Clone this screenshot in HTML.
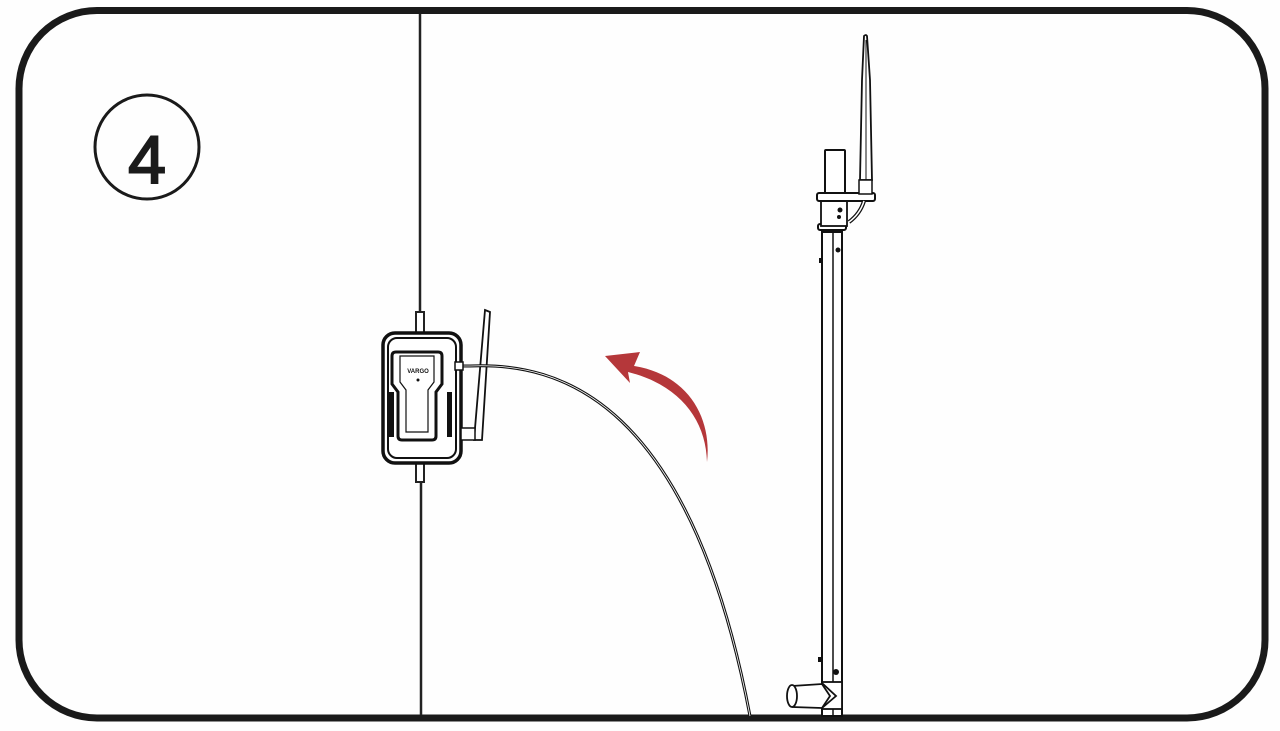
<!DOCTYPE html>
<html><head><meta charset="utf-8"><style>
html,body{margin:0;padding:0;background:#fefefe;}
svg{display:block}
</style></head><body>
<svg width="1280" height="731" viewBox="0 0 1280 731" xmlns="http://www.w3.org/2000/svg">
<rect x="0" y="0" width="1280" height="731" fill="#fefefe"/>
<rect x="19" y="10.5" width="1246" height="707.5" rx="78" ry="78" fill="none" stroke="#1a1a1a" stroke-width="7"/>
<circle cx="147" cy="147" r="52" fill="none" stroke="#1a1a1a" stroke-width="3"/>
<text x="147" y="183" text-anchor="middle" font-family="Liberation Sans, sans-serif" font-size="68" fill="#1a1a1a" stroke="#1a1a1a" stroke-width="2">4</text>

<!-- vertical cable -->
<line x1="420" y1="14" x2="420" y2="312" stroke="#222" stroke-width="2.5"/>
<line x1="421" y1="480" x2="421" y2="715" stroke="#222" stroke-width="2.5"/>
<rect x="416" y="312" width="8" height="22" fill="#fff" stroke="#222" stroke-width="2"/>
<rect x="416" y="460" width="8" height="22" fill="#fff" stroke="#222" stroke-width="2"/>

<!-- device -->
<rect x="383" y="333" width="78" height="130" rx="12" fill="#fff" stroke="#111" stroke-width="3.5"/>
<rect x="388" y="338" width="68" height="120" rx="9" fill="none" stroke="#111" stroke-width="2"/>
<path d="M396 352 h42 q4 0 4 4 v28 l-6 8 v44 q0 4 -4 4 h-30 q-4 0 -4 -4 v-44 l-6 -8 v-28 q0 -4 4 -4z" fill="none" stroke="#111" stroke-width="3"/>
<path d="M400 356 h34 v26 l-6 8 v42 h-22 v-42 l-6 -8z" fill="none" stroke="#111" stroke-width="1.2"/>
<rect x="389" y="392" width="5" height="45" fill="#111"/>
<rect x="447" y="392" width="5" height="45" fill="#111"/>
<text x="418" y="373" text-anchor="middle" font-family="Liberation Sans, sans-serif" font-size="6" font-weight="bold" fill="#111">VARGO</text>
<circle cx="418" cy="380" r="1.5" fill="#111"/>
<!-- side antenna -->
<path d="M485 310 L490 312 L482 440 L474 440 Z" fill="#fff" stroke="#111" stroke-width="1.8"/>
<rect x="461" y="428" width="14" height="12" fill="#fff" stroke="#111" stroke-width="1.5"/>
<!-- coax -->
<path d="M458 366 L470 366 C560 362 690 400 750 716" fill="none" stroke="#111" stroke-width="3"/>
<path d="M458 366 L470 366 C560 362 690 400 750 716" fill="none" stroke="#fff" stroke-width="0.8"/>
<rect x="455" y="362" width="8" height="8" fill="#fff" stroke="#111" stroke-width="1.5"/>

<!-- red arrow -->
<path d="M707 462 C706 420 680 385 628 372 L630 383 L605 356 L640 352 L634 366 C690 375 712 420 707 462 Z" fill="#b5373a"/>

<!-- mast -->
<rect x="822" y="232" width="20" height="484" fill="#fff" stroke="#111" stroke-width="2"/>
<line x1="833" y1="232" x2="833" y2="716" stroke="#111" stroke-width="1.5"/>
<rect x="818" y="224" width="28" height="6" rx="2" fill="#fff" stroke="#111" stroke-width="2"/>
<rect x="821" y="200" width="26" height="26" fill="#fff" stroke="#111" stroke-width="1.8"/>
<circle cx="840" cy="210" r="2.5" fill="#111"/>
<circle cx="839" cy="217" r="2" fill="#111"/>
<rect x="817" y="193" width="58" height="8" rx="2" fill="#fff" stroke="#111" stroke-width="2"/>
<rect x="825" y="150" width="20" height="43" rx="1" fill="#fff" stroke="#111" stroke-width="2"/>
<path d="M864 36 Q866 34 867 36 L870 80 L872 180 L860 180 L862 80 Z" fill="#fff" stroke="#111" stroke-width="1.8"/>
<line x1="866" y1="40" x2="866" y2="180" stroke="#111" stroke-width="1"/>
<rect x="859" y="180" width="13" height="14" fill="#fff" stroke="#111" stroke-width="1.5"/>
<path d="M864 201 Q860 214 849 222" fill="none" stroke="#111" stroke-width="4"/>
<path d="M864 201 Q860 214 849 222" fill="none" stroke="#fff" stroke-width="1.5"/>
<circle cx="838" cy="250" r="2.5" fill="#111"/>
<rect x="819" y="258" width="3" height="5" fill="#111"/>
<rect x="818" y="657" width="3" height="5" fill="#111"/>
<circle cx="836" cy="672" r="3" fill="#111"/>
<!-- bottom fitting -->
<rect x="822" y="682" width="20" height="27" fill="#fff" stroke="#111" stroke-width="1.8"/>
<path d="M822 683 L836 696 L822 708" fill="none" stroke="#111" stroke-width="1.8"/>
<path d="M792 686 L822 684 L830 696 L822 708 L792 707" fill="#fff" stroke="#111" stroke-width="1.8"/>
<ellipse cx="792" cy="696" rx="5" ry="11" fill="#fff" stroke="#111" stroke-width="1.8"/>
</svg>
</body></html>
